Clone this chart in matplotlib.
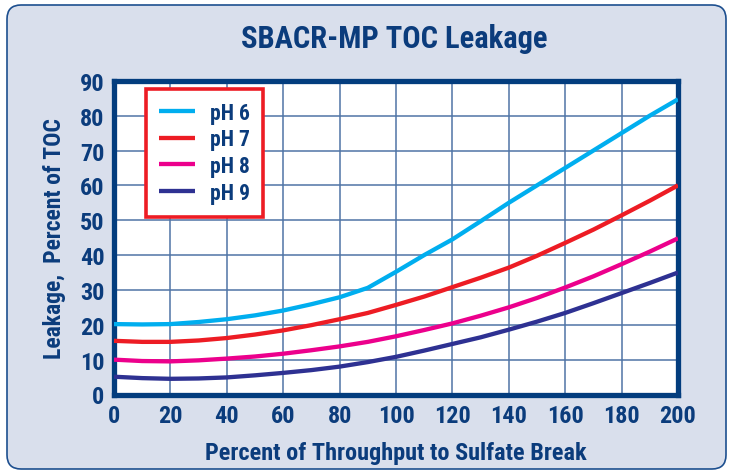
import matplotlib
matplotlib.use("Agg")
import matplotlib.pyplot as plt
import matplotlib.patches as mpatches
from matplotlib.transforms import IdentityTransform
from matplotlib import font_manager

names = {f.name for f in font_manager.fontManager.ttflist}
pref = ['Liberation Sans Narrow', 'Roboto Condensed', 'Open Sans Condensed', 'Lato', 'DejaVu Sans']
FAM = [n for n in pref if n in names][:1] + ['DejaVu Sans']
plt.rcParams['font.family'] = FAM

x = [0, 10, 20, 30, 40, 50, 60, 70, 80, 90, 100, 110, 120, 130, 140, 150, 160, 170, 180, 190, 200]
ph6 = [20.2, 20.1, 20.2, 20.8, 21.6, 22.7, 24.1, 25.9, 27.9, 30.6, 35.2, 40.0, 44.5, 49.7, 55.0, 60.0, 65.0, 70.0, 75.0, 80.0, 84.7]
ph7 = [15.4, 15.1, 15.1, 15.5, 16.2, 17.2, 18.4, 19.9, 21.6, 23.4, 25.7, 28.1, 30.8, 33.5, 36.4, 39.8, 43.5, 47.3, 51.4, 55.6, 60.0]
ph8 = [10.0, 9.6, 9.5, 9.8, 10.3, 10.9, 11.7, 12.7, 13.8, 15.1, 16.7, 18.5, 20.4, 22.6, 25.0, 27.7, 30.7, 33.9, 37.4, 41.0, 44.8]
ph9 = [5.1, 4.7, 4.5, 4.6, 4.9, 5.5, 6.2, 7.0, 8.0, 9.3, 10.8, 12.6, 14.5, 16.4, 18.6, 20.9, 23.4, 26.2, 29.1, 32.0, 35.0]
labels = ['pH 6', 'pH 7', 'pH 8', 'pH 9']
colors = ['#00aeef', '#ed1c24', '#ec008c', '#2e3192']
xticks = list(range(0, 201, 20))
yticks = list(range(0, 91, 10))

NAVY = '#0b3c7c'
W, H = 733, 477
fig = plt.figure(figsize=(W / 100, H / 100), dpi=100)
fig.patch.set_facecolor('white')

panel = mpatches.FancyBboxPatch((7, 7), 719, 464,
                                boxstyle='round,pad=0,rounding_size=14',
                                transform=IdentityTransform(),
                                facecolor='#d9dfec', edgecolor='#1d4f8f', linewidth=1.2,
                                zorder=-10)
fig.patches.append(panel)

ax = fig.add_axes([114 / W, (H - 395.5) / H, 564 / W, 313.7 / H])
ax.set_zorder(1)
ax.set_facecolor('white')
for xs, lab, c in zip([ph6, ph7, ph8, ph9], labels, colors):
    ax.plot(x, xs, color=c, linewidth=3.1, label=lab, solid_capstyle='butt', zorder=3)

ax.set_xlim(0, 200)
ax.set_ylim(0, 90)
ax.set_xticks(xticks)
ax.set_yticks(yticks)
ax.grid(True, color='#4f74a6', linewidth=1.1, zorder=1)
ax.set_axisbelow(True)
for s in ax.spines.values():
    s.set_color('#033d7e')
    s.set_linewidth(3.8)
    s.set_capstyle('projecting')
ax.tick_params(length=0, labelsize=17.5, labelcolor=NAVY, pad=7)
for t in ax.get_xticklabels() + ax.get_yticklabels():
    t.set_fontweight('bold')

ax.set_xlabel('Percent of Throughput to Sulfate Break', fontsize=17.5, fontweight='bold',
              color=NAVY, labelpad=10)
ax.set_ylabel('Leakage,  Percent of TOC', fontsize=17, fontweight='bold',
              color=NAVY, labelpad=10)
fig.text(394 / W, 1 - 39 / H, 'SBACR-MP TOC Leakage', fontsize=22, fontweight='bold',
         color=NAVY, ha='center', va='center')

leg = ax.legend(loc='upper left', bbox_to_anchor=(0.056, 0.975), frameon=True, fancybox=False,
                prop={'weight': 'bold', 'size': 15.5}, handlelength=1.7, handletextpad=0.7,
                labelspacing=0.22, borderpad=0.6, borderaxespad=0)
leg.get_frame().set_edgecolor('#ed1c24')
leg.get_frame().set_linewidth(2.6)
leg.get_frame().set_facecolor('white')
leg.get_frame().set_alpha(1)
for t in leg.get_texts():
    t.set_color(NAVY)

fig.savefig('out.png', dpi=100)
